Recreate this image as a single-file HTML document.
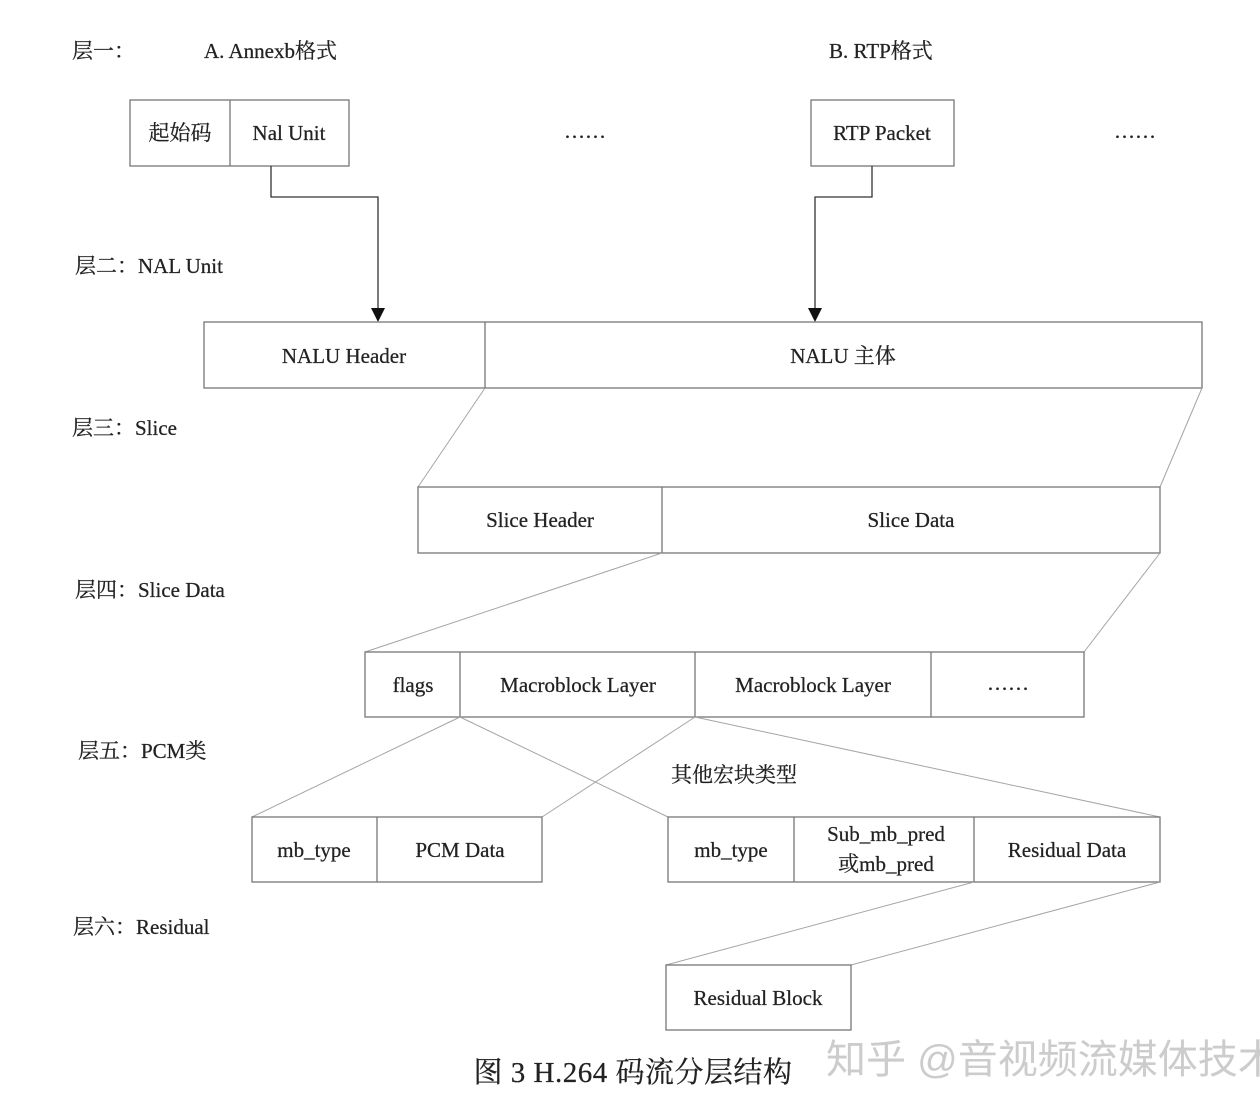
<!DOCTYPE html>
<html><head><meta charset="utf-8"><style>
html,body{margin:0;padding:0;background:#fff;overflow:hidden;}
svg{display:block;}
text{font-family:"Liberation Serif","Noto Serif CJK SC",serif;font-size:21px;fill:#222;stroke:#222;stroke-width:0.25;}
.b{fill:none;stroke:#777;stroke-width:1.3;}
.l{stroke:#a5a5a5;stroke-width:1;fill:none;}
.a{stroke:#333;stroke-width:1.3;fill:none;}
</style></head><body>
<svg width="1260" height="1116" viewBox="0 0 1260 1116">
<text x="72" y="58">层一：</text>
<text x="204" y="58">A. Annexb格式</text>
<text x="829" y="58">B. RTP格式</text>
<rect class="b" x="130" y="100" width="219" height="66"/>
<line class="b" x1="230" y1="100" x2="230" y2="166"/>
<text x="180" y="140" text-anchor="middle">起始码</text>
<text x="289" y="140" text-anchor="middle">Nal Unit</text>
<text x="585" y="138" text-anchor="middle">……</text>
<rect class="b" x="811" y="100" width="143" height="66"/>
<text x="882" y="140" text-anchor="middle">RTP Packet</text>
<text x="1135" y="138" text-anchor="middle">……</text>
<polyline class="a" points="271,166 271,197 378,197 378,310"/>
<polygon points="371,308 385,308 378,322" fill="#111"/>
<polyline class="a" points="872,166 872,197 815,197 815,310"/>
<polygon points="808,308 822,308 815,322" fill="#111"/>
<text x="75" y="273">层二：NAL Unit</text>
<rect class="b" x="204" y="322" width="998" height="66"/>
<line class="b" x1="485" y1="322" x2="485" y2="388"/>
<text x="344" y="363" text-anchor="middle">NALU Header</text>
<text x="843" y="363" text-anchor="middle">NALU 主体</text>
<text x="72" y="435">层三：Slice</text>
<line class="l" x1="485" y1="388" x2="418" y2="487"/>
<line class="l" x1="1202" y1="388" x2="1160" y2="487"/>
<rect class="b" x="418" y="487" width="742" height="66"/>
<line class="b" x1="662" y1="487" x2="662" y2="553"/>
<text x="540" y="527" text-anchor="middle">Slice Header</text>
<text x="911" y="527" text-anchor="middle">Slice Data</text>
<text x="75" y="597">层四：Slice Data</text>
<line class="l" x1="662" y1="553" x2="365" y2="652"/>
<line class="l" x1="1160" y1="553" x2="1084" y2="652"/>
<rect class="b" x="365" y="652" width="719" height="65"/>
<line class="b" x1="460" y1="652" x2="460" y2="717"/>
<line class="b" x1="695" y1="652" x2="695" y2="717"/>
<line class="b" x1="931" y1="652" x2="931" y2="717"/>
<text x="413" y="692" text-anchor="middle">flags</text>
<text x="578" y="692" text-anchor="middle">Macroblock Layer</text>
<text x="813" y="692" text-anchor="middle">Macroblock Layer</text>
<text x="1008" y="690" text-anchor="middle">……</text>
<text x="78" y="758">层五：PCM类</text>
<text x="734" y="782" text-anchor="middle">其他宏块类型</text>
<line class="l" x1="460" y1="717" x2="252" y2="817"/>
<line class="l" x1="460" y1="717" x2="668" y2="817"/>
<line class="l" x1="695" y1="717" x2="542" y2="817"/>
<line class="l" x1="695" y1="717" x2="1160" y2="817"/>
<rect class="b" x="252" y="817" width="290" height="65"/>
<line class="b" x1="377" y1="817" x2="377" y2="882"/>
<text x="314" y="857" text-anchor="middle">mb_type</text>
<text x="460" y="857" text-anchor="middle">PCM Data</text>
<rect class="b" x="668" y="817" width="492" height="65"/>
<line class="b" x1="794" y1="817" x2="794" y2="882"/>
<line class="b" x1="974" y1="817" x2="974" y2="882"/>
<text x="731" y="857" text-anchor="middle">mb_type</text>
<text x="886" y="841" text-anchor="middle">Sub_mb_pred</text>
<text x="886" y="871" text-anchor="middle">或mb_pred</text>
<text x="1067" y="857" text-anchor="middle">Residual Data</text>
<text x="73" y="934">层六：Residual</text>
<line class="l" x1="974" y1="882" x2="666" y2="965"/>
<line class="l" x1="1160" y1="882" x2="851" y2="965"/>
<rect class="b" x="666" y="965" width="185" height="65"/>
<text x="758" y="1005" text-anchor="middle">Residual Block</text>
<text x="633" y="1082" text-anchor="middle" style="font-size:29px;letter-spacing:0.5px">图 3 H.264 码流分层结构</text>
<text x="826" y="1073" style="font-size:40px;fill:#ccc;stroke:none;font-family:'Liberation Sans','Noto Sans CJK SC',sans-serif">知乎 @音视频流媒体技术</text>
</svg>
</body></html>
